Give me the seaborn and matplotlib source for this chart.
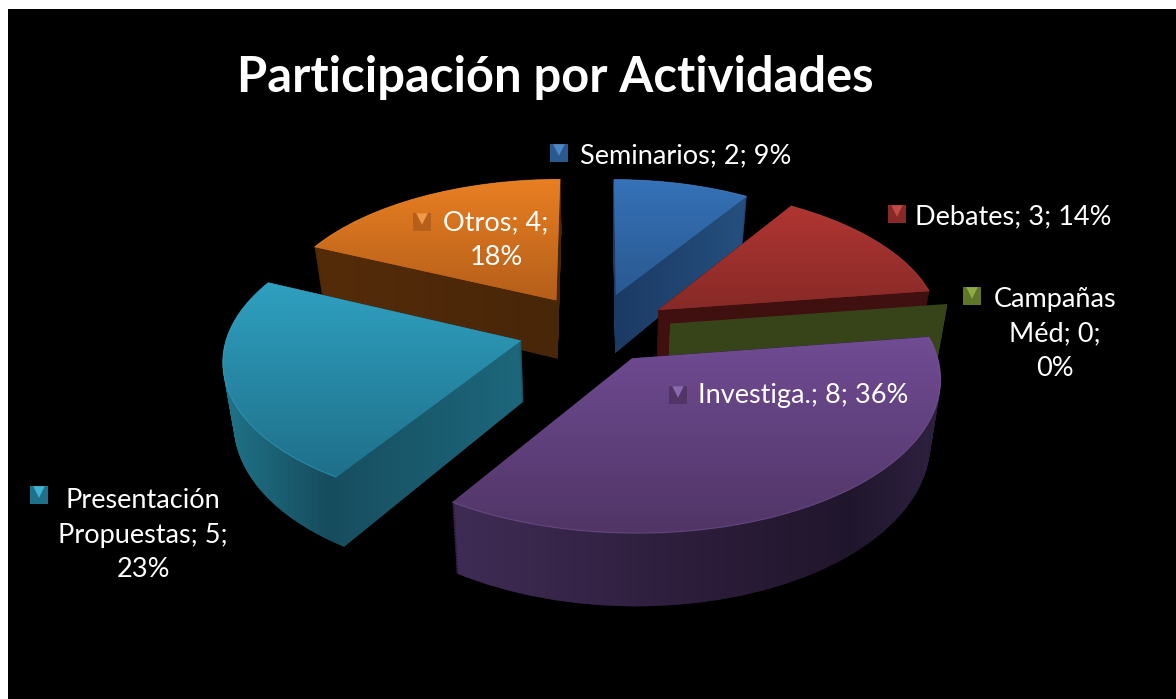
import numpy as np
import matplotlib
matplotlib.use("Agg")
import matplotlib.pyplot as plt
from matplotlib.colors import to_rgb
from matplotlib.path import Path
from matplotlib.transforms import Transform
import seaborn as sns

categories = ["Seminarios", "Debates", "Campañas Méd", "Investiga.", "Presentación Propuestas", "Otros"]
values = [2, 3, 0, 8, 5, 4]

top_light = ["#3572b8", "#b03532", "#7f9a35", "#704c94", "#2fa0c0", "#e97f22"]
top_dark = ["#2a5990", "#872a27", "#5f7528", "#513566", "#1f708a", "#b55f1a"]
side_color = ["#1f4470", "#3f100f", "#37441a", "#2a1d3a", "#1a5668", "#4c2a0a"]
rim_light = ["#4f86c6", "#c04a46", "#90aa45", "#8a68ae", "#3fb4d4", "#f09a45"]
side_stops = [
    [(612, "#1b3a63"), (748, "#25507f")],
    [(655, "#3f100f"), (930, "#3f100f")],
    [(665, "#33401a"), (945, "#3c4a1a")],
    [(455, "#3f2c55"), (700, "#2c1d3a"), (850, "#20162c"), (940, "#2e2140")],
    [(225, "#207389"), (330, "#164c5d"), (340, "#174f60"), (522, "#1d677c")],
    [(313, "#552c0a"), (557, "#482608")],
]
draw_order = [5, 0, 1, 2, 4, 3]

slice_explode = [0.25, 0.25, 0.25, 0.22, 0.25, 0.24]
slice_radius = [0.9, 0.93, 0.94, 0.98, 0.96, 0.94]

label_lines = ["{}; {}; {}%", "{}; {}; {}%", "Campañas\nMéd; {1};\n{2}%", "{}; {}; {}%",
               "Presentación\nPropuestas; {1};\n{2}%", "Otros; {1};\n{2}%"]
label_xy = [(686, 156), (1013, 217), (1055, 334), (803, 396), (143, 535), (496, 240)]
key_xy = [(559, 153), (897, 214), (972, 296), (678, 395), (39, 495), (422, 222)]

CX, CY, RX, RY, PERSP, DEPTH = 595, 330, 305, 150, 0.12, 60
SHRINK = 0.03
LAYERS = 90


class Perspective(Transform):
    input_dims = 2
    output_dims = 2

    def __init__(self, z=0.0):
        super().__init__()
        self.z = z

    def transform_non_affine(self, values):
        pts = np.asarray(values, dtype=float)
        f = 1 / (1 + PERSP * pts[:, 1])
        return np.column_stack([CX + pts[:, 0] * RX * f * (1 - SHRINK * self.z),
                                CY - pts[:, 1] * RY * f + self.z * DEPTH * f ** 1.3])


def mix_image(stops):
    xs = [s[0] for s in stops]
    cols = np.array([to_rgb(s[1]) for s in stops])
    grid = np.arange(int(xs[0]) - 40, int(xs[-1]) + 40)
    row = np.column_stack([np.interp(grid, xs, cols[:, c]) for c in range(3)])
    return row[np.newaxis, :, :], grid[0], grid[-1]


sns.set_theme(style="dark", rc={"axes.facecolor": "black", "figure.facecolor": "white"})
plt.rcParams["font.family"] = ["Lato", "DejaVu Sans"]

total = sum(values)
percents = [round(v / total * 100) for v in values]

fig = plt.figure(figsize=(11.76, 6.99), dpi=100)
ax = fig.add_axes([8 / 1176, 0, 1168 / 1176, 690 / 699])

# the extrusion is a stack of pies, furthest layer first
for z in np.linspace(1, 0, LAYERS):
    wedges, _ = ax.pie(values, explode=slice_explode, startangle=90, counterclock=False, colors=side_color)
    for i, w in enumerate(wedges):
        w.set_radius(w.r * slice_radius[i])
        w.set_edgecolor(side_color[i])
        # the empty slice has no area, only its outline shows
        w.set_linewidth(1.6 if values[i] == 0 else 0.2)
        w.set_transform(Perspective(z) + ax.transData)
        w.set_zorder(draw_order.index(i) * 3 + 1)

tops, _ = ax.pie(values, explode=slice_explode, startangle=90, counterclock=False, colors=top_dark,
                 wedgeprops={"linewidth": 0})
for i, w in enumerate(tops):
    order = draw_order.index(i) * 3
    w.set_radius(w.r * slice_radius[i])
    w.set_transform(Perspective(0) + ax.transData)
    w.set_zorder(order + 3)

    if values[i] == 0:
        continue
    base = w.get_path()
    # shaded sides
    shells = [Perspective(z).transform_path(base) for z in np.linspace(1, 0, 25)]
    shell = Path.make_compound_path(*shells)
    row, x0, x1 = mix_image(side_stops[i])
    ext = shell.get_extents()
    im = ax.imshow(row, extent=(x0, x1, ext.y1 + 2, ext.y0 - 2), aspect="auto", zorder=order + 2,
                   interpolation="bilinear")
    im.set_clip_path(shell, ax.transData)
    # shaded top
    flat = Perspective(0).transform_path(base)
    ext = flat.get_extents()
    col = np.linspace(to_rgb(top_light[i]), to_rgb(top_dark[i]), 64)[:, np.newaxis, :]
    im = ax.imshow(col, extent=(ext.x0, ext.x1, ext.y1, ext.y0), aspect="auto", zorder=order + 3.5,
                   interpolation="bilinear")
    im.set_clip_path(flat, ax.transData)
    # thin highlight on the rounded edge
    t = np.radians(np.linspace(w.theta1, w.theta2, 80))
    ax.plot(w.center[0] + w.r * np.cos(t), w.center[1] + w.r * np.sin(t),
            transform=Perspective(0) + ax.transData, color=rim_light[i], lw=0.8, alpha=0.4, zorder=order + 3.6)

for i, cat in enumerate(categories):
    text = label_lines[i].format(cat, values[i], percents[i])
    ax.text(*label_xy[i], text, color="white", fontsize=19.5, ha="center", va="center", linespacing=1.48, zorder=40)
    kx, ky = key_xy[i]
    ax.scatter([kx], [ky], marker="s", s=150, color=top_dark[i], edgecolors="none", zorder=41)
    ax.scatter([kx], [ky - 3], marker="v", s=70, color=rim_light[i], edgecolors="none", zorder=42)

ax.text(555, 77, "Participación por Actividades", color="white", fontsize=35.2, fontweight="bold",
        ha="center", va="center", zorder=40)

ax.set_aspect("auto")
ax.set_xlim(8, 1176)
ax.set_ylim(699, 9)
ax.set_frame_on(True)
ax.set_facecolor("black")
for spine in ax.spines.values():
    spine.set_visible(False)
ax.set_xticks([])
ax.set_yticks([])
ax.grid(False)

fig.savefig("out.png", dpi=100)
